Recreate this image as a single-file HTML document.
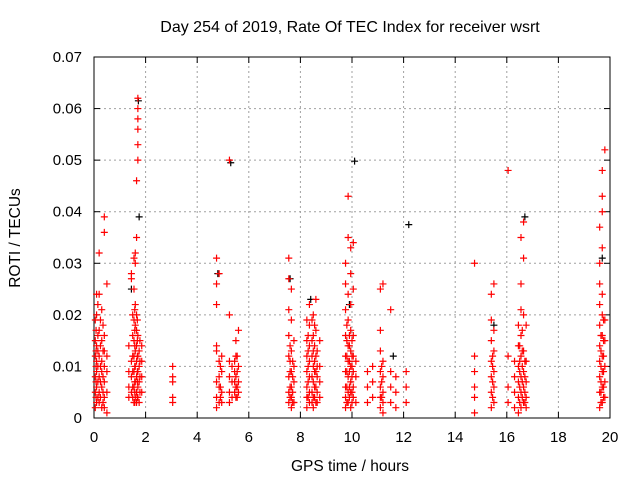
<!DOCTYPE html>
<html><head><meta charset="utf-8"><style>
body{margin:0;background:#fff}
svg{display:block;font-family:"Liberation Sans",sans-serif}
</style></head><body>
<svg id="chart" width="640" height="480">
<text x="350" y="32" font-size="16" text-anchor="middle">Day 254 of 2019, Rate Of TEC Index for receiver wsrt</text>
<g id="grid"></g><g id="axes"></g><g id="marks"></g>
<text x="350" y="471" font-size="15.5" text-anchor="middle">GPS time / hours</text>
<text transform="translate(20,238) rotate(-90)" font-size="15.5" text-anchor="middle">ROTI / TECUs</text>
</svg>
<script>
const xTicks=[0,2,4,6,8,10,12,14,16,18,20];
const yTicks=[0,0.01,0.02,0.03,0.04,0.05,0.06,0.07];
const yTickLabels=["0","0.01","0.02","0.03","0.04","0.05","0.06","0.07"];
const colHours=[0.05,0.1,0.15,0.2,0.3,0.4,0.5,1.35,1.45,1.55,1.6,1.65,1.7,1.75,1.85,3.05,4.75,4.85,4.95,5.25,5.35,5.5,5.6,7.55,7.65,7.75,8.25,8.35,8.5,8.6,8.75,9.75,9.85,9.95,10.05,10.15,10.6,10.8,11.1,11.2,11.5,11.7,12.1,14.75,15.4,15.5,16.05,16.3,16.45,16.55,16.65,16.75,19.6,19.7,19.8,
0.08,0.25,0.35,1.5,1.58,1.68,1.78,4.9,5.45,5.55,7.6,7.7,8.3,8.45,8.55,8.65,9.8,9.9,10.0,11.15,15.45,16.5,16.6,16.7,19.65,19.75];
const colRoti=[
[.002,.005,.008,.012,.015,.019],[.003,.006,.009,.011,.014,.020,.024],[.004,.007,.010,.013,.016,.022],[.003,.005,.008,.012,.017,.024,.032],[.002,.006,.009,.011,.015,.021],[.002,.004,.007,.010,.013,.016,.036,.039],[.001,.005,.009,.012,.026],
[.004,.006,.009,.014],[.005,.008,.011,.027,.028],[.003,.006,.009,.012,.015,.019,.025,.031],[.004,.007,.010,.013,.018,.022,.030,.032],[.003,.005,.008,.011,.014,.017,.020,.035,.046],[.004,.006,.009,.012,.016,.050,.053,.056,.058,.060,.062],[.003,.007,.010,.013],[.005,.008,.011,.014],
[.003,.004,.007,.008,.010],
[.002,.004,.007,.013,.014,.022,.026,.031],[.003,.006,.008,.011,.028],[.003,.005,.009,.012],[.003,.005,.008,.011,.020,.050],[.004,.007,.010],[.004,.006,.008,.012,.015],[.005,.007,.010,.017],
[.003,.005,.008,.012,.016,.021,.027,.031],[.002,.004,.006,.009,.013,.019,.025],[.003,.007,.010,.015],
[.002,.004,.006,.009,.012,.015,.019],[.003,.005,.008,.011,.014,.018,.022],[.002,.004,.007,.010,.013,.016,.020],[.003,.006,.009,.012,.017,.023],[.004,.007,.010,.015],
[.002,.004,.006,.009,.012,.016,.021,.026,.030],[.003,.005,.008,.011,.014,.019,.024,.035,.043],[.002,.005,.007,.010,.013,.017,.022,.028,.033],[.004,.006,.009,.012,.016,.025,.034],[.003,.008,.011],
[.003,.006,.009],[.004,.007,.010],[.002,.004,.006,.009,.013,.017,.025],[.001,.003,.005,.008,.011,.026],[.003,.006,.009,.021],[.002,.005,.008],
[.003,.006,.009],[.001,.004,.006,.009,.012,.030],
[.002,.005,.008,.011,.015,.019,.024],[.003,.006,.009,.013,.017,.026],
[.003,.006,.012,.048],[.002,.005,.008,.011],[.001,.004,.007,.010,.014,.018],[.002,.005,.008,.012,.016,.021,.026,.035],[.003,.006,.009,.013,.020,.031,.038],[.002,.004,.007,.011,.018],
[.002,.005,.008,.011,.014,.018,.022,.026,.030,.037],[.003,.006,.009,.012,.016,.020,.024,.033,.040,.043,.048],[.004,.007,.010,.015,.019,.052],
[.004,.007,.010,.013,.017],[.004,.007,.010,.014,.019],[.003,.005,.008,.013,.018],
[.004,.006,.009,.012,.016,.020],[.003,.005,.007,.010,.014,.017,.021],[.004,.007,.009,.012,.015,.019],[.005,.008,.011,.015],
[.004,.006,.010],[.005,.007,.009,.011],[.004,.006,.009,.012],
[.004,.006,.009,.011,.014],[.003,.005,.008,.011],
[.004,.007,.010,.013,.016],[.003,.005,.008,.012,.015,.019],[.004,.006,.009,.011,.014,.018],[.003,.005,.008,.010,.013],
[.003,.006,.009,.012,.015,.018],[.004,.006,.009,.011,.014,.016],[.003,.005,.008,.010,.012,.015],
[.004,.007,.010],[.004,.007,.010,.012],
[.003,.006,.009,.011,.014],[.004,.007,.010,.013,.017],[.003,.005,.008,.011],
[.003,.005,.007,.010,.013,.016],[.004,.006,.009,.012,.015,.019]
];
const blackHours=[1.72,1.75,1.45,5.3,10.1,12.2,16.7,9.9,8.4,4.8,11.6,15.5,7.6,19.7];
const blackRoti=[.0615,.039,.025,.0495,.0498,.0375,.039,.022,.023,.028,.012,.018,.027,.031];
const X0=94,X1=610,Y0=418,Y1=57;
const sx=t=>X0+t/20*(X1-X0), sy=v=>Y0-v/0.07*(Y0-Y1);
const NS="http://www.w3.org/2000/svg";
function mk(tag,attrs,parent){const e=document.createElementNS(NS,tag);for(const k in attrs)e.setAttribute(k,attrs[k]);parent.appendChild(e);return e;}
const grid=document.getElementById('grid'),axes=document.getElementById('axes'),marks=document.getElementById('marks');
xTicks.forEach((t,i)=>{const x=sx(t);
 if(i>0&&i<xTicks.length-1){const g=mk('line',{x1:x,x2:x,y1:Y0,y2:Y1,stroke:'#a0a0a0','stroke-dasharray':'2,3'},grid);
 
 }
 mk('line',{x1:x,x2:x,y1:Y0,y2:Y0-6,stroke:'#000'},axes);
 mk('line',{x1:x,x2:x,y1:Y1,y2:Y1+6,stroke:'#000'},axes);
 const l=mk('text',{x:x,y:442,'font-size':15,'text-anchor':'middle'},axes);l.textContent=t;
 
 
});
yTicks.forEach((v,i)=>{const y=sy(v);
 if(i>0&&i<yTicks.length-1){const g=mk('line',{x1:X0,x2:X1,y1:y,y2:y,stroke:'#a0a0a0','stroke-dasharray':'2,3'},grid);
 
 }
 mk('line',{x1:X0,x2:X0+6,y1:y,y2:y,stroke:'#000'},axes);
 mk('line',{x1:X1,x2:X1-6,y1:y,y2:y,stroke:'#000'},axes);
 const l=mk('text',{x:82,y:y+5,'font-size':15,'text-anchor':'end'},axes);l.textContent=yTickLabels[i];
 
 
});
const frame=mk('rect',{x:X0,y:Y1,width:X1-X0,height:Y0-Y1,fill:'none',stroke:'#000'},axes);


function plus(t,v,c,name){const x=sx(t),y=sy(v);
 const p=mk('path',{d:`M${x-3.5},${y}H${x+3.5}M${x},${y-3.5}V${y+3.5}`,stroke:c,'stroke-width':1.2,fill:'none'},marks);
 
 }
blackHours.forEach((t,i)=>plus(t,blackRoti[i],'#000','black-point'));
colHours.forEach((t,i)=>colRoti[i].forEach(v=>plus(t,v,'#ff0000','roti-point')));
</script>
</body></html>
